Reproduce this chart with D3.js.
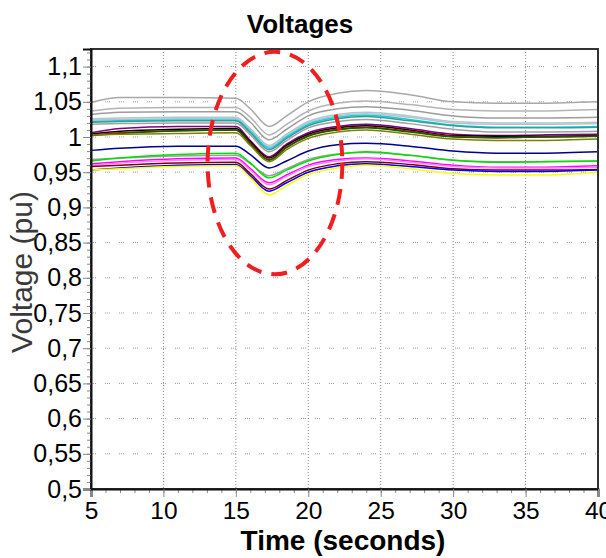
<!DOCTYPE html>
<html>
<head>
<meta charset="utf-8">
<script src="https://cdn.jsdelivr.net/npm/d3@7"></script>
<style>
  body { margin: 0; background: #fff; }
  text { font-family: "Liberation Sans", Arial, sans-serif; }
</style>
</head>
<body>
<div id="chart"></div>
<script>
// sample times (seconds)
const times = [5, 7, 11, 15, 16, 17.3, 18.5, 20, 22, 24, 27, 30, 33, 36, 40];

// bus voltages (pu), one array per bus
const seriesColors = ['#a8a8a8', '#b4b4b4', '#9c9c9c', '#a8c8dc', '#c0c0c0', '#00d8e4', '#3a9a9a', '#a0a0a0',
  '#800080', '#000000', '#e00000', '#006400', '#808000', '#000090', '#a0a0a0', '#00e000',
  '#ff00ff', '#ff80ff', '#800000', '#0000ff', '#ffff00'];
const seriesValues = [
  [1.049, 1.056, 1.056, 1.055, 1.040, 1.015, 1.030, 1.050, 1.062, 1.066, 1.060, 1.050, 1.048, 1.048, 1.050],
  [1.037, 1.041, 1.042, 1.042, 1.028, 1.003, 1.018, 1.037, 1.048, 1.051, 1.046, 1.039, 1.037, 1.037, 1.039],
  [1.032, 1.035, 1.036, 1.036, 1.021, 0.996, 1.011, 1.030, 1.040, 1.043, 1.038, 1.030, 1.027, 1.027, 1.028],
  [1.026, 1.027, 1.028, 1.028, 1.012, 0.988, 1.004, 1.022, 1.032, 1.035, 1.030, 1.022, 1.020, 1.020, 1.021],
  [1.024, 1.025, 1.026, 1.026, 1.010, 0.986, 1.002, 1.020, 1.030, 1.033, 1.028, 1.020, 1.018, 1.018, 1.019],
  [1.022, 1.023, 1.024, 1.024, 1.008, 0.984, 1.000, 1.018, 1.028, 1.031, 1.025, 1.017, 1.014, 1.014, 1.015],
  [1.021, 1.022, 1.023, 1.023, 1.006, 0.982, 0.998, 1.016, 1.026, 1.029, 1.023, 1.016, 1.013, 1.013, 1.014],
  [1.018, 1.019, 1.020, 1.020, 1.003, 0.979, 0.995, 1.013, 1.022, 1.025, 1.019, 1.011, 1.007, 1.007, 1.008],
  [1.006, 1.012, 1.015, 1.015, 0.995, 0.972, 0.990, 1.006, 1.015, 1.018, 1.012, 1.004, 1.002, 1.003, 1.004],
  [1.004, 1.008, 1.011, 1.012, 0.993, 0.970, 0.988, 1.004, 1.013, 1.016, 1.010, 1.002, 1.001, 1.001, 1.002],
  [1.003, 1.006, 1.009, 1.010, 0.991, 0.968, 0.986, 1.002, 1.011, 1.014, 1.008, 1.001, 0.999, 1.000, 1.001],
  [1.002, 1.005, 1.009, 1.010, 0.990, 0.967, 0.985, 1.001, 1.010, 1.013, 1.007, 1.000, 0.999, 1.000, 1.001],
  [1.003, 1.004, 1.005, 1.006, 0.988, 0.965, 0.982, 0.998, 1.007, 1.010, 1.004, 0.997, 0.995, 0.995, 0.997],
  [0.981, 0.984, 0.987, 0.987, 0.975, 0.956, 0.966, 0.980, 0.989, 0.991, 0.987, 0.980, 0.977, 0.977, 0.979],
  [0.968, 0.970, 0.973, 0.974, 0.962, 0.945, 0.955, 0.968, 0.976, 0.978, 0.974, 0.967, 0.965, 0.965, 0.966],
  [0.966, 0.970, 0.975, 0.977, 0.963, 0.942, 0.953, 0.966, 0.975, 0.979, 0.974, 0.967, 0.964, 0.965, 0.966],
  [0.962, 0.965, 0.969, 0.970, 0.955, 0.935, 0.946, 0.960, 0.968, 0.970, 0.966, 0.960, 0.957, 0.957, 0.959],
  [0.960, 0.963, 0.967, 0.968, 0.953, 0.932, 0.944, 0.958, 0.966, 0.969, 0.964, 0.958, 0.956, 0.956, 0.957],
  [0.958, 0.960, 0.963, 0.964, 0.948, 0.926, 0.938, 0.953, 0.962, 0.965, 0.961, 0.955, 0.953, 0.953, 0.954],
  [0.953, 0.956, 0.960, 0.961, 0.945, 0.923, 0.935, 0.950, 0.959, 0.962, 0.958, 0.953, 0.951, 0.951, 0.953],
  [0.953, 0.955, 0.958, 0.959, 0.942, 0.918, 0.931, 0.947, 0.956, 0.960, 0.955, 0.948, 0.946, 0.946, 0.950]
];

const xTicks = [5, 10, 15, 20, 25, 30, 35, 40];
const yTicks = [0.5, 0.55, 0.6, 0.65, 0.7, 0.75, 0.8, 0.85, 0.9, 0.95, 1, 1.05, 1.1];

// highlighted disturbance: centre (s, pu) and half-extents
const ellipseCenter = [17.7, 0.963];
const ellipseHalf = [4.65, 0.158];

const W = 606, H = 558;
const margin = { top: 49, right: 8, bottom: 69, left: 91 };

const svg = d3.select('#chart').append('svg')
  .attr('width', W).attr('height', H);

const x = d3.scaleLinear().domain([5, 40]).range([margin.left, W - margin.right]);
const y = d3.scaleLinear().domain([0.5, 1.125]).range([H - margin.bottom, margin.top]);

const fmt = v => String(+v.toFixed(2)).replace('.', ',');

// grid: vertical dense dots, horizontal sparse dot groups
svg.append('g').attr('stroke', '#8a8a8a').attr('stroke-dasharray', '1,2')
  .selectAll('line').data(xTicks.slice(1, -1)).enter().append('line')
  .attr('x1', d => x(d)).attr('x2', d => x(d))
  .attr('y1', y.range()[1]).attr('y2', y.range()[0]);
svg.append('g').attr('stroke', '#9a9a9a').attr('stroke-dasharray', '1,1,1,1,1,9')
  .selectAll('line').data(yTicks.slice(1)).enter().append('line')
  .attr('y1', d => y(d)).attr('y2', d => y(d))
  .attr('x1', x.range()[0]).attr('x2', x.range()[1]);

// lines
const line = d3.line()
  .x((d, i) => x(times[i]))
  .y(d => y(d))
  .curve(d3.curveMonotoneX);

svg.append('g').selectAll('path').data(seriesValues).enter().append('path')
  .attr('d', line)
  .attr('fill', 'none')
  .attr('stroke', (d, i) => seriesColors[i])
  .attr('stroke-width', 1.5);

// frame
svg.append('rect')
  .attr('x', x.range()[0]).attr('y', y.range()[1])
  .attr('width', x.range()[1] - x.range()[0])
  .attr('height', y.range()[0] - y.range()[1])
  .attr('fill', 'none').attr('stroke', '#333').attr('stroke-width', 2);

// x axis
const xMinor = svg.append('g').attr('transform', `translate(0,${y.range()[0]})`)
  .call(d3.axisBottom(x).tickValues(d3.range(5, 41, 1)).tickSize(4).tickFormat(''));
xMinor.selectAll('.tick line').attr('stroke', '#888');
xMinor.select('.domain').remove();
const xMajor = svg.append('g').attr('transform', `translate(0,${y.range()[0]})`)
  .call(d3.axisBottom(x).tickValues(xTicks).tickSize(8).tickPadding(5).tickFormat(d3.format('d')));
xMajor.select('.domain').attr('stroke', '#111').attr('stroke-width', 2);
xMajor.selectAll('.tick line').attr('stroke', '#888');
xMajor.selectAll('.tick text').attr('font-size', 24.5).attr('fill', '#000')
  .attr('font-family', '"Liberation Sans", Arial, sans-serif');

// y axis
const yMinor = svg.append('g').attr('transform', `translate(${x.range()[0]},0)`)
  .call(d3.axisLeft(y).tickValues(d3.range(50, 113, 1).map(v => v / 100)).tickSize(4).tickFormat(''));
yMinor.selectAll('.tick line').attr('stroke', '#888');
yMinor.select('.domain').remove();
const yMajor = svg.append('g').attr('transform', `translate(${x.range()[0]},0)`)
  .call(d3.axisLeft(y).tickValues(yTicks).tickSize(8).tickPadding(1).tickFormat(fmt));
yMajor.select('.domain').attr('stroke', '#111').attr('stroke-width', 2);
yMajor.selectAll('.tick line').attr('stroke', '#888');
yMajor.selectAll('.tick text').attr('font-size', 25).attr('fill', '#000')
  .attr('font-family', '"Liberation Sans", Arial, sans-serif');

// dashed ellipse annotation
svg.append('ellipse')
  .attr('cx', x(ellipseCenter[0])).attr('cy', y(ellipseCenter[1]))
  .attr('rx', x(ellipseCenter[0] + ellipseHalf[0]) - x(ellipseCenter[0]))
  .attr('ry', y(ellipseCenter[1] - ellipseHalf[1]) - y(ellipseCenter[1]))
  .attr('fill', 'none').attr('stroke', '#f01e1e')
  .attr('stroke-width', 4).attr('stroke-dasharray', '16,10');

// titles
svg.append('text').attr('x', 300).attr('y', 33).attr('text-anchor', 'middle')
  .attr('font-size', 26).attr('font-weight', 'bold').text('Voltages');
svg.append('text').attr('x', 343).attr('y', 550).attr('text-anchor', 'middle')
  .attr('font-size', 28).attr('font-weight', 'bold').text('Time (seconds)');
svg.append('text').attr('transform', 'translate(32,272) rotate(-90)').attr('text-anchor', 'middle')
  .attr('font-size', 30).attr('fill', '#3a3a3a').text('Voltage (pu)');
</script>
</body>
</html>
